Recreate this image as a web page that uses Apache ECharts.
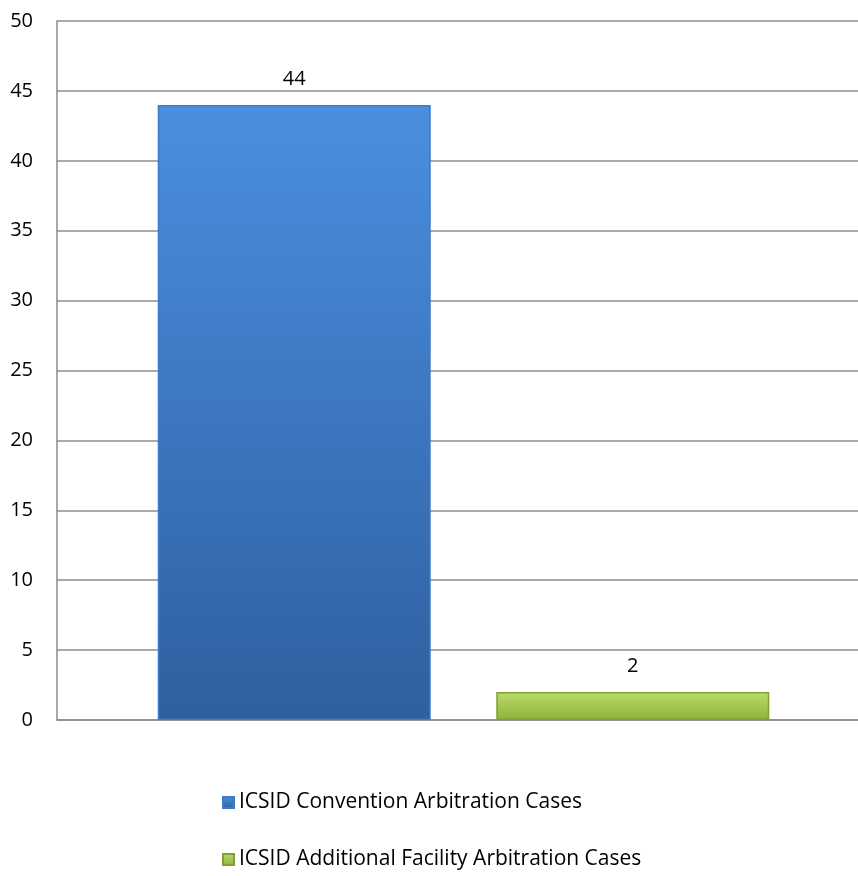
<!DOCTYPE html>
<html>
<head>
<meta charset="utf-8">
<script src="https://cdn.jsdelivr.net/npm/echarts@6/dist/echarts.min.js"></script>
<style>html,body{margin:0;padding:0;background:#fff;overflow:hidden;width:858px;height:876px}#c{width:870px;height:876px}</style>
</head>
<body>
<div id="c"></div>
<script>
var categories = [''];
var seriesNames = ['ICSID Convention Arbitration Cases', 'ICSID Additional Facility Arbitration Cases'];
var conventionValues = [44];
var additionalValues = [2];
var yTicks = [0, 5, 10, 15, 20, 25, 30, 35, 40, 45, 50];

var font = 'Open Sans';
var chart = echarts.init(document.getElementById('c'));
function grad(top, bottom) {
  return new echarts.graphic.LinearGradient(0, 0, 0, 1, [
    {offset: 0, color: top}, {offset: 1, color: bottom}
  ]);
}
chart.setOption({
  animation: false,
  grid: {left: 57, right: 0, top: 21, bottom: 156, containLabel: false},
  xAxis: {
    type: 'category', data: categories,
    axisLine: {show: true, lineStyle: {color: '#8c8c8c', width: 1.5}},
    axisTick: {show: false}, axisLabel: {show: false}
  },
  yAxis: {
    type: 'value', min: yTicks[0], max: yTicks[yTicks.length - 1], interval: 5,
    axisLine: {show: true, lineStyle: {color: '#8c8c8c', width: 1.5}},
    axisTick: {show: false},
    axisLabel: {fontFamily: font, fontSize: 20, color: '#000', margin: 24},
    splitLine: {lineStyle: {color: '#8c8c8c', width: 1.5}}
  },
  legend: {
    orient: 'vertical', left: 217, top: 787, itemGap: 36,
    itemWidth: 11, itemHeight: 11, icon: 'rect',
    textStyle: {fontFamily: font, fontSize: 21, color: '#000'},
    data: seriesNames
  },
  series: [
    {
      name: seriesNames[0], type: 'bar', data: conventionValues,
      barWidth: 273, barGap: '24%',
      itemStyle: {color: grad('#4a8fe0', '#2f5f9f'), borderColor: '#3f7ac4', borderWidth: 1.5},
      label: {show: true, position: 'top', distance: 16, fontFamily: font, fontSize: 20, color: '#000'}
    },
    {
      name: seriesNames[1], type: 'bar', data: additionalValues,
      barWidth: 273, barGap: '24%',
      itemStyle: {color: grad('#bcdc68', '#8db33c'), borderColor: '#7f9f37', borderWidth: 1.5},
      label: {show: true, position: 'top', distance: 16, fontFamily: font, fontSize: 20, color: '#000'}
    }
  ]
});
</script>
</body>
</html>
